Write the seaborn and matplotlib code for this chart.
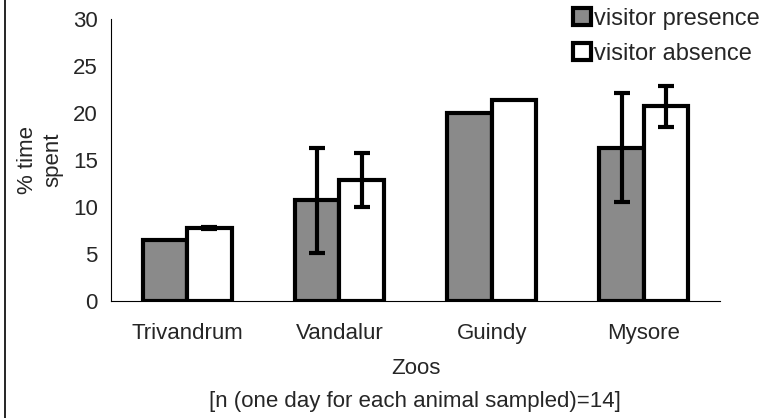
import matplotlib
matplotlib.use("Agg")
import matplotlib.pyplot as plt
import seaborn as sns
import pandas as pd
import numpy as np
from matplotlib.patches import Patch
from matplotlib.lines import Line2D

zoos = ["Trivandrum", "Vandalur", "Guindy", "Mysore"]
conditions = ["visitor presence", "visitor absence"]
presence = [6.5, 10.7, 20.0, 16.3]
absence = [7.8, 12.9, 21.4, 20.7]
presence_err = [0.0, 5.6, 0.0, 5.8]
absence_err = [0.1, 2.85, 0.0, 2.2]
yticks = [0, 5, 10, 15, 20, 25, 30]

df = pd.DataFrame({
    "zoo": zoos * 2,
    "condition": [conditions[0]] * 4 + [conditions[1]] * 4,
    "value": presence + absence,
})

sns.set_style("white")
plt.rcParams["font.family"] = ["Liberation Sans", "DejaVu Sans"]

fig = plt.figure(figsize=(7.74, 4.18), dpi=100)
ax = fig.add_axes([111/774, 1-301/418, 609/774, 282/418])

palette = {conditions[0]: "#8a8a8a", conditions[1]: "#ffffff"}
sns.barplot(data=df, x="zoo", y="value", hue="condition", order=zoos,
            hue_order=conditions, palette=palette, width=0.585, gap=0,
            errorbar=None, edgecolor="black", linewidth=3.0, ax=ax,
            legend=False, saturation=1)

# error bars at bar centers
for cont, errs, vals in zip(ax.containers, [presence_err, absence_err], [presence, absence]):
    xs = [p.get_x() + p.get_width()/2 for p in cont.patches]
    e = np.array(errs)
    mask = e > 0
    ax.errorbar(np.array(xs)[mask], np.array(vals)[mask], yerr=e[mask], fmt="none",
                ecolor="black", elinewidth=3.0, capsize=5.8, capthick=3.0, zorder=5)

ax.set_ylim(0, 30)
ax.set_xlim(-0.5, 3.5)
ax.set_yticks(yticks)
ax.set_yticklabels([str(t) for t in yticks], fontsize=16)
ax.set_xticks(range(4))
ax.set_xticklabels(zoos, fontsize=16)
ax.set_xticks(np.arange(-0.5, 4, 1), minor=True)
ax.tick_params(axis="x", which="major", length=0, pad=16)
ax.tick_params(axis="x", which="minor", length=5, width=0.8, color="black", direction="out")
ax.tick_params(axis="y", which="major", length=4.5, width=0.8, color="black", direction="out", pad=5)
for s in ["top", "right"]:
    ax.spines[s].set_visible(False)
for s in ["left", "bottom"]:
    ax.spines[s].set_color("black")
    ax.spines[s].set_linewidth(0.8)

ax.set_xlabel("Zoos", fontsize=16)
ax.xaxis.set_label_coords(0.5, -(369-301)/282)
ax.xaxis.label.set_va("center")
ax.set_ylabel("% time\nspent", fontsize=16, linespacing=1.3)
ax.yaxis.set_label_coords(-(111-40)/609, 0.5)
ax.yaxis.label.set_va("center")

fig.text(415/774, 1-401/418, "[n (one day for each animal sampled)=14]",
         ha="center", va="center", fontsize=16)

handles = [Patch(facecolor="#8a8a8a", edgecolor="black", linewidth=3.0),
           Patch(facecolor="white", edgecolor="black", linewidth=3.0)]
fig.legend(handles, conditions, loc="upper left", bbox_to_anchor=(573/774, 1-8/418),
           frameon=False, fontsize=17, handlelength=0.75, handleheight=0.75,
           handletextpad=0.15, labelspacing=0.55, borderaxespad=0, borderpad=0)

fig.add_artist(Line2D([5/774, 5/774], [0, 1], transform=fig.transFigure,
                      color="black", linewidth=1.2))

fig.savefig("out.png", dpi=100)
